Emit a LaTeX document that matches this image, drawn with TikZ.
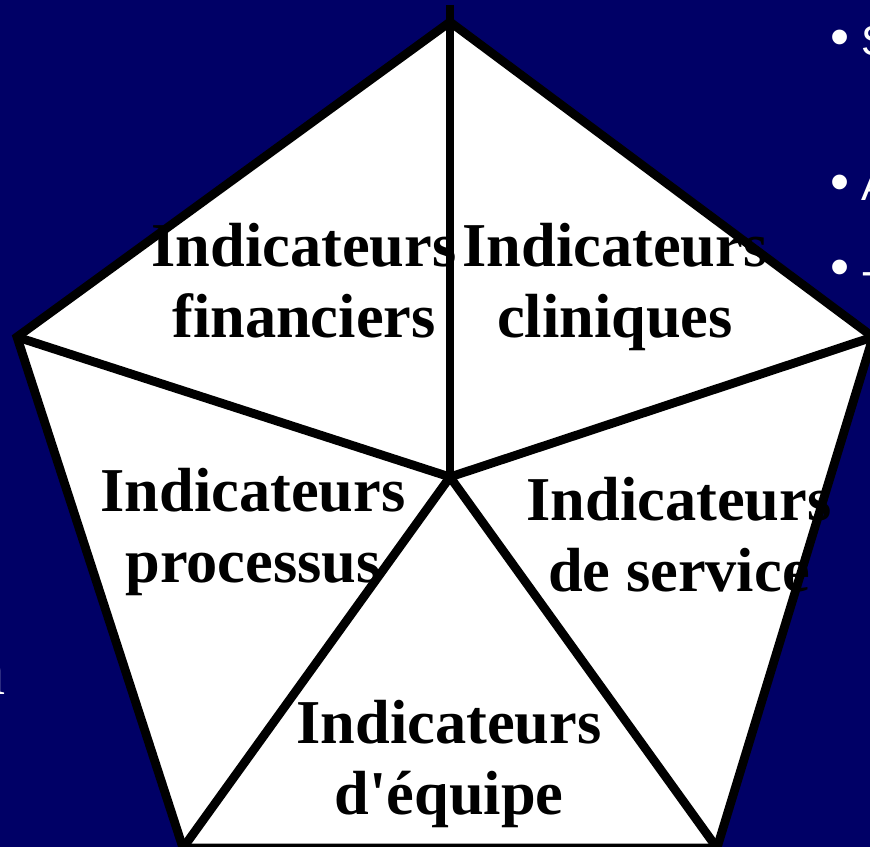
\documentclass[tikz,border=0pt]{standalone}
\usepackage{fontspec}
\setmainfont{Liberation Serif}
\setsansfont{Liberation Sans}
\usetikzlibrary{positioning}
\definecolor{slideblue}{HTML}{000066}

\begin{document}
\begin{tikzpicture}[
		x=0.02cm, y=-0.02cm,
		edge/.style={draw=black, line width=5pt, line join=miter},
		label/.style={font=\fontsize{35.5}{40.5}\selectfont\bfseries, align=center, inner sep=0pt},
		bullettxt/.style={font=\sffamily\fontsize{24}{28}\selectfont, text=white, inner sep=0pt},
	]
		% Background
		\useasboundingbox (0,0) rectangle (870,847);
		\clip (0,0) rectangle (870,847);
		\fill[slideblue] (0,0) rectangle (870,847);

		% Slide text behind the pentagon
		\node[bullettxt, anchor=base west] (b1) at (830,56) {{\fontsize{31}{31}\selectfont\textbullet}\ S};
		\node[bullettxt, anchor=base west] (b2) at (830,201) {{\fontsize{31}{31}\selectfont\textbullet}\ A};
		\node[bullettxt, anchor=base west] (b3) at (830,286) {{\fontsize{31}{31}\selectfont\textbullet}\ -};
		\node[font=\fontsize{40}{44}\selectfont, text=white, inner sep=0pt, anchor=base east] (ln) at (6,695) {n};

		% Corners
		\coordinate (tip) at (450,5);
		\coordinate (top) at (450,22);
		\coordinate (left) at (17,337);
		\coordinate (right) at (873,337);
		\coordinate (bl) at (183,848);
		\coordinate (br) at (717,848);
		\coordinate (ctr) at (450,477);

		% Pentagon
		\filldraw[edge, fill=white] (top) -- (right) -- (br) -- (bl) -- (left) -- cycle;

		% Spokes
		\draw[edge] (tip) -- (ctr);
		\draw[edge] (left) -- (ctr) -- (right);
		\draw[edge] (bl) -- (ctr) -- (br);

		% Labels (base = last line)
		\node[label, anchor=base] (fin) at (304,338) {Indicateurs\\financiers};
		\node[label, anchor=base] (cli) at (615,338) {Indicateurs\\cliniques};
		\node[label, anchor=base] (pro) at (253,583) {Indicateurs\\processus};
		\node[label, anchor=base] (ser) at (679,592) {Indicateurs\\de service};
		\node[label, anchor=base] (equ) at (449,815) {Indicateurs\\d\textquotesingle équipe};
	\end{tikzpicture}
\end{document}
